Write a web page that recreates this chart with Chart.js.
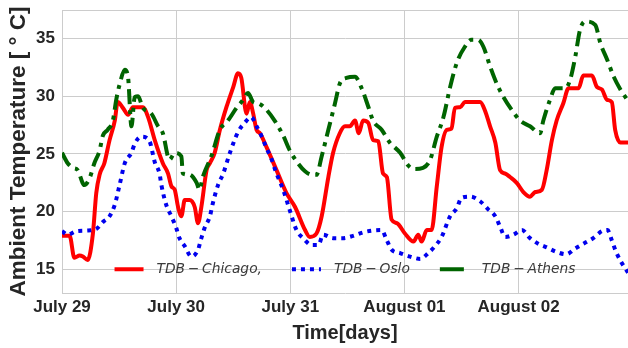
<!DOCTYPE html>
<html>
<head>
<meta charset="utf-8">
<script src="https://cdn.jsdelivr.net/npm/chart.js@4.4.1/dist/chart.umd.min.js"></script>
<style>
  html, body { margin: 0; padding: 0; background: #ffffff; }
  #wrap { width: 628px; height: 348px; }
</style>
</head>
<body>
<div id="wrap"><canvas id="c" width="628" height="348"></canvas></div>
<script>
// ---- Data (hours since July 29 00:00, temperature in °C) ----
const seriesNames = ['TDB\u2009\u2212\u2009Chicago,', 'TDB\u2009\u2212\u2009Oslo', 'TDB\u2009\u2212\u2009Athens'];

const chicago = [[0,17.9],[1.6,17.9],[2.6,16.0],[3.7,16.2],[4.4,16.1],[5.4,15.8],[6.5,18.1],[7.2,21.6],[7.9,23.2],[8.9,24.2],[10.0,26.2],[11.1,27.9],[11.7,29.5],[12.8,29.0],[13.9,28.4],[14.9,29.05],[17.0,29.05],[18.1,28.2],[19.5,26.2],[21.2,24.2],[22.3,23.3],[23.0,22.2],[23.7,21.9],[24.4,20.4],[25.1,19.6],[25.8,21.0],[26.8,21.0],[27.9,20.4],[28.6,19.0],[29.3,20.4],[30.4,23.6],[31.1,24.2],[32.1,25.1],[33.2,27.1],[34.6,29.1],[36.0,30.8],[37.0,32.0],[37.7,31.6],[38.8,28.5],[39.5,29.5],[40.2,28.5],[40.9,27.1],[41.6,26.8],[43.0,25.6],[45.1,23.6],[47.2,21.6],[49.0,20.4],[51.1,18.4],[52.1,17.8],[53.5,18.1],[54.6,19.6],[56.0,23.0],[57.0,25.1],[58.4,26.8],[59.5,27.4],[60.5,27.4],[61.6,27.9],[62.4,26.8],[63.3,27.9],[64.4,27.7],[65.4,26.2],[66.5,26.1],[67.5,23.3],[68.3,23.0],[69.3,19.3],[70.4,19.0],[72.1,18.1],[73.9,17.4],[74.9,18.0],[75.6,17.4],[76.7,18.4],[77.7,18.4],[78.8,22.2],[79.8,25.6],[80.9,27.1],[81.9,27.2],[82.6,29.0],[83.7,29.05],[84.7,29.5],[87.9,29.5],[88.9,28.8],[90.0,27.4],[91.1,26.0],[92.1,23.6],[93.2,23.3],[94.2,23.0],[95.6,22.5],[97.0,21.7],[98.4,21.3],[99.5,21.7],[100.9,21.9],[101.9,23.6],[103.0,26.2],[104.0,27.9],[105.4,29.4],[106.5,30.7],[108.6,30.7],[109.6,31.8],[111.4,31.8],[112.5,30.8],[113.5,30.6],[114.6,29.7],[115.6,29.5],[116.3,27.1],[117.4,26.0],[119,26.0]];

const oslo = [[0,18.3],[1.2,18.0],[3.0,18.3],[5.1,18.35],[7.2,18.5],[8.6,19.1],[10.0,19.6],[11.1,20.6],[12.1,22.3],[13.2,24.2],[14.6,25.1],[15.3,25.9],[16.7,26.5],[18.4,26.1],[19.5,24.3],[20.5,23.3],[20.9,22.3],[21.9,20.6],[23.0,19.6],[24.0,18.6],[24.7,17.7],[25.8,17.0],[27.2,16.1],[28.6,16.7],[29.3,17.7],[30.0,18.6],[31.1,19.6],[31.7,20.7],[32.8,22.3],[33.9,23.3],[35.3,25.1],[37.0,26.9],[38.4,27.7],[39.8,28.2],[40.9,27.4],[41.9,26.6],[43.0,25.5],[44.0,24.6],[45.1,23.3],[46.5,21.9],[47.9,20.1],[49.3,18.4],[50.7,17.7],[52.5,17.1],[53.9,17.1],[54.9,18.0],[57.0,17.7],[59.1,17.7],[61.2,17.9],[63.3,18.2],[65.1,18.35],[67.2,18.4],[68.3,17.5],[69.3,16.7],[71.1,16.4],[73.2,16.1],[75.3,15.9],[77.0,16.4],[78.4,17.0],[79.8,17.8],[81.6,19.6],[83.0,20.3],[84.0,21.2],[85.9,21.3],[87.9,20.9],[89.6,20.2],[91.1,19.6],[92.1,18.7],[93.2,17.8],[94.9,18.0],[96.7,18.4],[98.4,17.7],[100.2,17.2],[101.9,16.9],[104.0,16.5],[106.0,16.3],[107.9,16.8],[109.8,17.25],[111.7,17.7],[113.5,18.3],[114.7,18.4],[115.6,17.5],[116.5,16.5],[117.4,15.75],[119,14.7]];

const athens = [[0,25.1],[1.2,24.2],[2.3,23.8],[3.3,23.6],[4.7,22.3],[5.8,22.9],[6.8,24.2],[7.9,25.3],[8.6,26.6],[9.6,27.1],[10.7,27.9],[11.4,29.7],[12.1,31.0],[13.2,32.3],[13.9,31.6],[14.6,27.4],[15.3,29.95],[16.0,30.0],[17.0,29.0],[18.8,28.5],[20.2,27.4],[21.2,26.8],[22.6,24.5],[23.7,25.1],[25.1,24.8],[25.4,23.3],[26.8,23.2],[28.3,22.5],[28.9,21.9],[29.6,23.0],[31.4,24.8],[33.2,27.1],[34.9,27.9],[36.7,29.0],[38.1,29.7],[39.1,30.3],[40.2,29.5],[41.2,29.4],[42.6,29.0],[44.7,27.9],[46.5,26.6],[47.9,25.3],[49.6,24.2],[51.1,23.5],[52.5,23.2],[53.5,23.2],[54.6,24.8],[56.0,27.1],[57.4,29.4],[58.4,31.1],[59.8,31.6],[61.6,31.7],[63.0,30.7],[64.4,29.1],[65.4,27.9],[67.2,27.1],[68.9,26.0],[71.1,25.1],[72.8,24.0],[73.9,23.7],[75.9,23.8],[77.4,24.5],[78.8,26.5],[80.2,28.2],[81.6,30.8],[83.0,32.9],[84.7,34.3],[86.1,34.9],[87.5,34.9],[88.6,34.3],[90.0,32.6],[91.4,31.1],[92.8,29.95],[94.6,28.8],[96.3,27.9],[98.4,27.4],[100.5,26.8],[101.2,27.9],[102.6,29.7],[103.7,30.7],[105.8,30.7],[106.8,31.4],[107.9,33.4],[108.9,35.75],[110.0,36.5],[112.1,36.2],[113.2,34.6],[114.6,33.2],[116.0,31.7],[117.4,30.6],[119,29.6]];

const xTickHours = [0, 24, 48, 72, 96];
const xTickLabels = ['July 29', 'July 30', 'July 31', 'August 01', 'August 02'];
const yTickValues = [15, 20, 25, 30, 35];

// ---- Styling ----
const TEXT = '#262626';
const GRID = '#cccccc';
const toPts = arr => arr.map(p => ({ x: p[0], y: p[1] }));

const frame = {
  id: 'frame',
  beforeDatasetsDraw(chart) {
    const { ctx, chartArea: a } = chart;
    ctx.save();
    ctx.strokeStyle = GRID;
    ctx.lineWidth = 1;
    ctx.beginPath();
    ctx.moveTo(a.left, a.top + 0.5);
    ctx.lineTo(a.right, a.top + 0.5);
    ctx.stroke();
    ctx.restore();
  }
};

const innerLegend = {
  id: 'innerLegend',
  afterDatasetsDraw(chart) {
    const { ctx, chartArea: a } = chart;
    const y = chart.scales.y.getPixelForValue(15);
    ctx.save();
    ctx.font = 'italic 13.8px "DejaVu Sans"';
    ctx.textBaseline = 'middle';
    const handle = 29, gap = 13, colGap = 30;
    const ds = chart.data.datasets;
    const widths = ds.map(d => ctx.measureText(d.label).width);
    const total = ds.length * (handle + gap) + widths.reduce((s, w) => s + w, 0) + (ds.length - 1) * colGap;
    let x = (a.left + a.right) / 2 - total / 2;
    ds.forEach((d, i) => {
      ctx.strokeStyle = d.borderColor;
      ctx.lineWidth = d.borderWidth;
      ctx.lineCap = 'butt';
      ctx.setLineDash(d.borderDash && d.borderDash.length === 2 ? d.borderDash : []);
      const len = d.borderDash && d.borderDash.length === 4 ? 24 : handle;
      ctx.beginPath();
      ctx.moveTo(x, y);
      ctx.lineTo(x + len, y);
      ctx.stroke();
      ctx.setLineDash([]);
      ctx.fillStyle = '#3a3a3a';
      ctx.fillText(d.label, x + handle + gap, y);
      x += handle + gap + widths[i] + colGap;
    });
    ctx.restore();
  }
};

new Chart(document.getElementById('c'), {
  type: 'line',
  data: {
    datasets: [
      { label: seriesNames[0], data: toPts(chicago), borderColor: '#ff0000', borderWidth: 4, order: 2,
        pointRadius: 0, fill: false, cubicInterpolationMode: 'monotone' },
      { label: seriesNames[1], data: toPts(oslo), borderColor: '#0000ee', borderWidth: 4, borderDash: [4, 5], order: 1,
        pointRadius: 0, fill: false, cubicInterpolationMode: 'monotone', borderCapStyle: 'butt' },
      { label: seriesNames[2], data: toPts(athens), borderColor: '#006400', borderWidth: 4, borderDash: [15, 6, 4, 6], order: 0,
        pointRadius: 0, fill: false, cubicInterpolationMode: 'monotone', borderCapStyle: 'butt' }
    ]
  },
  options: {
    responsive: false,
    devicePixelRatio: 1,
    animation: false,
    layout: { padding: { top: 10, left: 0, right: 0, bottom: 0 } },
    plugins: { legend: { display: false }, tooltip: { enabled: false } },
    scales: {
      x: {
        type: 'linear', min: 0, max: 119,
        afterFit: s => { s.height = 55; s.paddingRight = 0; },
        afterBuildTicks: s => { s.ticks = xTickHours.map(v => ({ value: v })); },
        ticks: {
          autoSkip: false, maxRotation: 0, padding: 4, color: TEXT,
          font: { family: '"Liberation Sans", Arial, sans-serif', size: 17, weight: 'bold' },
          callback: (v, i) => xTickLabels[i]
        },
        grid: { color: GRID, lineWidth: 1, drawTicks: false },
        border: { color: GRID },
        title: {
          display: true, text: 'Time[days]', color: TEXT,
          font: { family: '"Liberation Sans", Arial, sans-serif', size: 20, weight: 'bold' },
          padding: { top: 0, bottom: 3 }
        }
      },
      y: {
        type: 'linear', min: 12.94, max: 37.49,
        afterFit: s => { s.width = 62; s.paddingTop = 0; s.paddingBottom = 0; },
        afterBuildTicks: s => { s.ticks = yTickValues.map(v => ({ value: v })); },
        ticks: {
          padding: 7, color: TEXT,
          font: { family: '"Liberation Sans", Arial, sans-serif', size: 17, weight: 'bold' }
        },
        grid: { color: GRID, lineWidth: 1, drawTicks: false },
        border: { color: GRID },
        title: {
          display: true, text: 'Ambient Temperature [ \u00B0 C]', color: TEXT,
          font: { family: '"Liberation Sans", Arial, sans-serif', size: 22.5, weight: 'bold' },
          padding: { top: 5, bottom: 0 }
        }
      }
    }
  },
  plugins: [frame, innerLegend]
});
</script>
</body>
</html>
